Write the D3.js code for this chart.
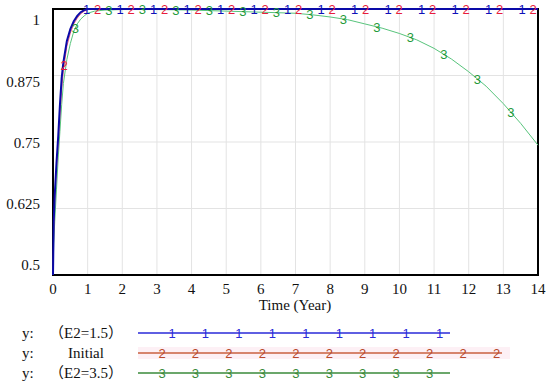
<!DOCTYPE html>
<html>
<head>
<meta charset="utf-8">
<script src="https://cdn.jsdelivr.net/npm/d3@7"></script>
<style>
  body { margin: 0; background: #fff; }
  svg { display: block; }
  .tick-label { font-family: "Liberation Serif", "Times New Roman", serif; font-size: 15px; fill: #111; }
  .cjk { font-family: "Noto Sans CJK SC", sans-serif; }
  .marker { font-family: "Liberation Sans", Arial, sans-serif; font-size: 13px; }
</style>
</head>
<body>
<div id="chart"></div>
<script>
'use strict'

// time points (years) shared by all three runs
const times = [0, 0.02, 0.05, 0.1, 0.15, 0.2, 0.25, 0.3, 0.4, 0.5, 0.6, 0.7, 0.8, 0.9, 1.0, 1.2, 1.5,
  2, 3, 4, 4.5, 5, 5.5, 6, 6.5, 7, 7.5, 8, 8.5, 9, 9.5, 10, 10.5, 11, 11.5, 12, 12.5, 13, 13.5, 14]

// y : (E2=1.5)
const runE15 = [0.5, 0.6, 0.65, 0.71, 0.76, 0.82, 0.87, 0.9, 0.94, 0.962, 0.977, 0.987, 0.994, 0.998, 1, 1, 1,
  1, 1, 1, 1, 1, 1, 1, 1, 1, 1, 1, 1, 1, 1, 1, 1, 1, 1, 1, 1, 1, 1, 1]

// y : Initial
const runInitial = [0.5, 0.58, 0.64, 0.7, 0.75, 0.8, 0.85, 0.885, 0.93, 0.955, 0.972, 0.983, 0.991, 0.996, 0.999, 1, 1,
  1, 1, 1, 1, 1, 1, 1, 1, 1, 1, 1, 1, 1, 1, 1, 1, 1, 1, 1, 1, 1, 1, 1]

// y : (E2=3.5)
const runE35 = [0.5, 0.56, 0.6, 0.66, 0.72, 0.77, 0.82, 0.86, 0.905, 0.935, 0.958, 0.972, 0.981, 0.987, 0.992, 0.996, 0.998,
  0.999, 0.999, 0.998, 0.997, 0.996, 0.995, 0.994, 0.993, 0.992, 0.989, 0.985, 0.98, 0.972, 0.964, 0.954, 0.942, 0.926,
  0.906, 0.882, 0.855, 0.822, 0.785, 0.744]

const xTicks = d3.range(0, 15)
const yTicks = [0.5, 0.625, 0.75, 0.875, 1]
const yTickLabels = ['0.5', '0.625', '0.75', '0.875', '1']

const seriesNames = ['（E2=1.5）', 'Initial', '（E2=3.5）']

////////////////////////////////////
//////////// svg setup /////////////
////////////////////////////////////

const svgWidth = 550
const svgHeight = 387

const plot = { left: 53, right: 538, top: 9, bottom: 275 }

const svg = d3.select('#chart').append('svg')
  .attr('width', svgWidth)
  .attr('height', svgHeight)

////////////////////////////////////
//////////////scales////////////////
////////////////////////////////////

const xScale = d3.scaleLinear().domain([0, 14]).range([plot.left, plot.right])
const yScale = d3.scaleLinear().domain([0.5, 1]).range([plot.bottom, plot.top])
// the tick labels sit a little inside the gridlines in the original
const yLabelScale = d3.scaleLinear().domain([0.5, 1]).range([265, 20])

const runs = [
  { values: runE15, mark: '1', line: '#0a0aa8', text: '#1010b8', width: 2, legLine: '#2a2ad8', legText: '#2a2ad8', legEnd: 450 },
  { values: runInitial, mark: '2', line: '#e8587a', text: '#e81c3c', width: 1, legLine: '#c8603f', legText: '#b8482c', legEnd: 502 },
  { values: runE35, mark: '3', line: '#58c47c', text: '#1f9a3a', width: 1, legLine: '#3a8a3a', legText: '#3a8a3a', legEnd: 450 }
]

////////////////////////////////////
///////////////grid/////////////////
////////////////////////////////////

svg.append('g')
  .selectAll('line')
  .data(xTicks.slice(1, -1))
  .join('line')
  .attr('x1', d => xScale(d)).attr('x2', d => xScale(d))
  .attr('y1', plot.top).attr('y2', plot.bottom)
  .attr('stroke', '#e3e3e3')

svg.append('g')
  .selectAll('line')
  .data(yTicks.slice(1, -1))
  .join('line')
  .attr('x1', plot.left).attr('x2', plot.right)
  .attr('y1', d => yScale(d)).attr('y2', d => yScale(d))
  .attr('stroke', '#e3e3e3')

// frame
svg.append('rect')
  .attr('x', plot.left).attr('y', plot.top)
  .attr('width', plot.right - plot.left).attr('height', plot.bottom - plot.top)
  .attr('fill', 'none').attr('stroke', '#000').attr('stroke-width', 2)

////////////////////////////////////
/////////////// lines //////////////
////////////////////////////////////

const line = d3.line()
  .x((d, i) => xScale(times[i]))
  .y(d => yScale(d))

// draw green, red, then blue on top
const order = [2, 1, 0]
order.forEach(k => {
  const r = runs[k]
  svg.append('path')
    .attr('fill', 'none')
    .attr('stroke', r.line)
    .attr('stroke-width', r.width)
    .attr('d', line(r.values))
})

////////////////////////////////////
////////////// markers /////////////
////////////////////////////////////

const markStep = 0.967
const interp = (vals, t) => {
  const i = d3.bisectRight(times, t)
  if (i <= 0) return vals[0]
  if (i >= times.length) return vals[vals.length - 1]
  const f = (t - times[i - 1]) / (times[i] - times[i - 1])
  return vals[i - 1] + f * (vals[i] - vals[i - 1])
}

runs.forEach((r, k) => {
  const offset = k * 0.322
  const ts = d3.range(offset, 14.01, markStep).filter(t => t > 0.1)
  svg.append('g')
    .selectAll('text')
    .data(ts)
    .join('text')
    .attr('class', 'marker')
    .attr('x', t => xScale(t))
    .attr('y', t => yScale(interp(r.values, t)))
    .attr('dy', '0.36em')
    .attr('text-anchor', 'middle')
    .attr('fill', r.text)
    .text(r.mark)
})

////////////////////////////////////
///////////////axis/////////////////
////////////////////////////////////

svg.append('g')
  .selectAll('text')
  .data(xTicks)
  .join('text')
  .attr('class', 'tick-label')
  .attr('x', d => xScale(d))
  .attr('y', 294)
  .attr('text-anchor', 'middle')
  .text(d => d)

svg.append('g')
  .selectAll('text')
  .data(yTicks)
  .join('text')
  .attr('class', 'tick-label')
  .attr('x', 40)
  .attr('y', d => yLabelScale(d))
  .attr('dy', '0.35em')
  .attr('text-anchor', 'end')
  .text((d, i) => yTickLabels[i])

svg.append('text')
  .attr('class', 'tick-label')
  .attr('x', 295)
  .attr('y', 310)
  .attr('text-anchor', 'middle')
  .text('Time (Year)')

////////////////////////////////////
////////////// legend //////////////
////////////////////////////////////

const legY = [333, 353, 373]
const legStart = 138

runs.forEach((r, k) => {
  const g = svg.append('g')
  if (k === 1) {
    g.append('rect')
      .attr('x', legStart).attr('y', legY[k] - 6)
      .attr('width', 372).attr('height', 12)
      .attr('fill', '#fdf0f5')
  }
  g.append('text')
    .attr('class', 'tick-label')
    .attr('x', 22).attr('y', legY[k]).attr('dy', '0.35em')
    .text('y:')
  const label = g.append('text')
    .attr('class', 'tick-label')
    .attr('x', 86).attr('y', legY[k]).attr('dy', '0.35em')
    .attr('text-anchor', 'middle')
  // full-width brackets from the CJK font, the rest in serif
  seriesNames[k].split(/([（）])/).filter(s => s).forEach(s => {
    label.append('tspan')
      .attr('class', /[（）]/.test(s) ? 'cjk' : null)
      .text(s)
  })
  g.append('line')
    .attr('x1', legStart).attr('x2', r.legEnd)
    .attr('y1', legY[k]).attr('y2', legY[k])
    .attr('stroke', r.legLine).attr('stroke-width', 1.3)
  const first = k === 0 ? 172 : 162
  g.selectAll('text.lm')
    .data(d3.range(first, r.legEnd - 5, 33.45))
    .join('text')
    .attr('class', 'marker lm')
    .attr('x', d => d).attr('y', legY[k]).attr('dy', '0.36em')
    .attr('text-anchor', 'middle')
    .attr('fill', r.legText)
    .text(r.mark)
})
</script>
</body>
</html>
